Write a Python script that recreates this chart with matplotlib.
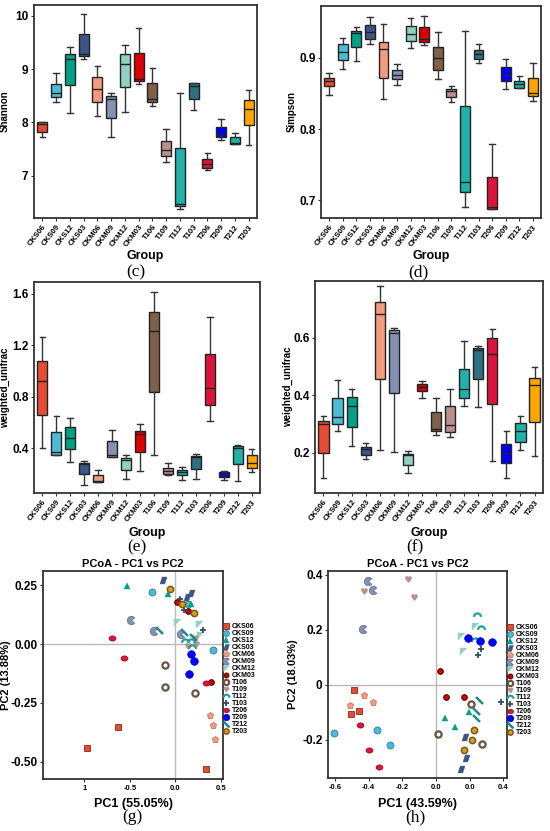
import numpy as np
import matplotlib.pyplot as plt

plt.rcParams['font.family'] = ['Liberation Sans', 'DejaVu Sans']
plt.rcParams['font.weight'] = 'bold'
plt.rcParams['axes.labelweight'] = 'bold'

groups = ['CKS06', 'CKS09', 'CKS12', 'CKS03', 'CKM06', 'CKM09', 'CKM12', 'CKM03',
          'T106', 'T109', 'T112', 'T103', 'T206', 'T209', 'T212', 'T203']
colors = ['#E64B35', '#4DBBD5', '#00A087', '#3C5488', '#F39B7F', '#8491B4', '#91D1C2', '#DC0000',
          '#7E6148', '#BC8F8F', '#20B2AA', '#2E6F80', '#DC143C', '#0000FF', '#20B2AA', '#FFA500']

# (c) Shannon: whisker low, q1, median, q3, whisker high
shannon_lo = [7.73, 8.375, 8.18, 9.19, 8.13, 7.73, 8.19, 8.72, 8.31, 7.26, 6.38, 8.225, 7.11, 7.68, 7.59, 7.575]
shannon_q1 = [7.83, 8.47, 8.70, 9.24, 8.38, 8.075, 8.66, 8.78, 8.375, 7.375, 6.43, 8.43, 7.14, 7.72, 7.59, 7.96]
shannon_med = [7.97, 8.56, 9.18, 9.29, 8.625, 8.43, 9.09, 8.82, 8.43, 7.475, 6.47, 8.69, 7.23, 7.79, 7.62, 8.25]
shannon_q3 = [8.0, 8.72, 9.275, 9.65, 8.86, 8.49, 9.29, 9.31, 8.73, 7.66, 7.525, 8.73, 7.31, 7.92, 7.725, 8.42]
shannon_hi = [8.01, 8.93, 9.41, 10.04, 9.06, 8.56, 9.46, 9.77, 9.025, 7.875, 8.55, 8.73, 7.42, 8.06, 7.81, 8.6]

# (d) Simpson
simpson_lo = [0.848, 0.885, 0.895, 0.920, 0.842, 0.862, 0.914, 0.918, 0.870, 0.838, 0.691, 0.893, 0.688, 0.857, 0.858, 0.840]
simpson_q1 = [0.860, 0.897, 0.915, 0.927, 0.872, 0.870, 0.924, 0.923, 0.883, 0.845, 0.711, 0.899, 0.688, 0.868, 0.858, 0.846]
simpson_med = [0.868, 0.909, 0.935, 0.936, 0.912, 0.876, 0.934, 0.927, 0.900, 0.854, 0.726, 0.905, 0.690, 0.876, 0.863, 0.851]
simpson_q3 = [0.872, 0.919, 0.938, 0.946, 0.922, 0.883, 0.945, 0.944, 0.915, 0.856, 0.832, 0.911, 0.733, 0.887, 0.868, 0.872]
simpson_hi = [0.879, 0.928, 0.943, 0.958, 0.947, 0.892, 0.956, 0.959, 0.937, 0.861, 0.938, 0.919, 0.779, 0.899, 0.875, 0.893]

# (e) weighted_unifrac
wu_e_lo = [0.40, 0.351, 0.292, 0.119, 0.140, 0.333, 0.163, 0.222, 0.351, 0.194, 0.155, 0.163, 0.614, 0.153, 0.145, 0.214]
wu_e_q1 = [0.657, 0.351, 0.395, 0.204, 0.140, 0.333, 0.230, 0.369, 0.838, 0.204, 0.194, 0.243, 0.737, 0.176, 0.279, 0.248]
wu_e_med = [0.923, 0.372, 0.485, 0.279, 0.150, 0.348, 0.312, 0.511, 1.309, 0.227, 0.217, 0.333, 0.866, 0.202, 0.40, 0.287]
wu_e_q3 = [1.08, 0.524, 0.567, 0.287, 0.191, 0.457, 0.325, 0.536, 1.456, 0.248, 0.235, 0.341, 1.134, 0.215, 0.423, 0.349]
wu_e_hi = [1.26, 0.655, 0.634, 0.30, 0.235, 0.544, 0.346, 0.590, 1.613, 0.284, 0.256, 0.356, 1.415, 0.225, 0.426, 0.395]

# (f) weighted_unifrac
wu_f_lo = [0.112, 0.274, 0.224, 0.178, 0.208, 0.203, 0.129, 0.391, 0.262, 0.253, 0.362, 0.358, 0.170, 0.111, 0.210, 0.188]
wu_f_q1 = [0.200, 0.299, 0.291, 0.192, 0.455, 0.409, 0.158, 0.415, 0.277, 0.272, 0.390, 0.455, 0.369, 0.166, 0.237, 0.306]
wu_f_med = [0.299, 0.325, 0.364, 0.212, 0.684, 0.617, 0.193, 0.428, 0.284, 0.298, 0.421, 0.558, 0.542, 0.199, 0.275, 0.435]
wu_f_q3 = [0.310, 0.391, 0.392, 0.220, 0.725, 0.627, 0.197, 0.439, 0.340, 0.363, 0.492, 0.565, 0.598, 0.231, 0.303, 0.459]
wu_f_hi = [0.329, 0.452, 0.421, 0.234, 0.779, 0.635, 0.205, 0.451, 0.391, 0.421, 0.590, 0.571, 0.631, 0.274, 0.328, 0.498]

# (g) PCoA, three samples per group
g_pc1 = [[-0.971, -0.629, 0.331], [-0.257, 0.136, 0.412], [-0.533, -0.077, 0.173], [-0.132, 0.121, 0.173],
         [0.382, 0.412, 0.438], [-0.489, -0.235, 0.062], [0.022, 0.261, 0.265], [0.015, 0.136, 0.393],
         [-0.118, -0.118, 0.217], [0.136, 0.228, 0.21], [0.099, 0.173, 0.184], [0.044, 0.092, 0.301],
         [-0.702, -0.566, 0.335], [0.173, 0.202, 0.147], [-0.176, 0.092, 0.191], [-0.059, 0.070, 0.199]]
g_pc2 = [[-0.442, -0.353, -0.530], [0.220, 0.169, -0.025], [0.247, 0.212, 0.169], [0.271, 0.202, 0.219],
         [-0.300, -0.346, -0.404], [0.103, 0.056, 0.043], [0.096, 0.084, 0.039], [0.181, 0.142, -0.163],
         [-0.090, -0.182, -0.208], [-0.008, 0.002, 0.028], [0.014, 0.014, -0.013], [0.191, 0.145, 0.060],
         [0.025, -0.061, -0.167], [-0.044, -0.071, -0.126], [0.060, 0.050, 0.030], [0.233, 0.169, 0.134]]

# (h) PCoA
h_pc1 = [[-0.485, -0.503, -0.459], [-0.608, -0.349, -0.271], [0.051, 0.115, 0.194], [0.174, 0.180, 0.147],
         [-0.513, -0.430, -0.374], [-0.402, -0.372, -0.432], [0.147, 0.234, 0.160], [0.024, 0.059, 0.168],
         [0.208, 0.012, 0.273], [-0.430, -0.168, -0.129], [0.242, 0.269, 0.234], [0.265, 0.248, 0.386],
         [-0.451, -0.396, -0.337], [0.192, 0.263, 0.333], [0.257, 0.236, 0.238], [0.224, 0.212, 0.166]]
h_pc2 = [[-0.018, -0.105, -0.096], [-0.176, -0.163, -0.217], [-0.122, -0.153, -0.100], [-0.188, -0.264, -0.304],
         [-0.072, -0.037, -0.064], [0.378, 0.343, 0.203], [0.177, 0.212, 0.122], [0.052, -0.043, -0.043],
         [-0.070, -0.177, -0.213], [0.341, 0.383, 0.320], [0.252, 0.206, 0.163], [0.129, 0.107, -0.061],
         [-0.147, -0.237, -0.297], [0.171, 0.160, 0.157], [-0.054, -0.096, -0.122], [-0.165, -0.199, -0.235]]

W, H = 550, 831
fig = plt.figure(figsize=(5.5, 8.31), dpi=100)


def ax_px(left, top, right, bottom):
    ax = fig.add_axes([left / W, 1 - bottom / H, (right - left) / W, (bottom - top) / H])
    ax.px = (left, top, right, bottom)
    return ax


def frame(ax):
    for s in ax.spines.values():
        s.set_linewidth(1.3)
        s.set_color('#333333')
    ax.tick_params(length=2.5, width=0.8, color='#333333', pad=1.5)


def place_labels(ax, ylab_x, xlab_y):
    # label positions given in figure pixels
    left, top, right, bottom = ax.px
    ax.yaxis.set_label_coords((ylab_x - left) / (right - left), 0.5)
    ax.xaxis.set_label_coords(0.5, (bottom - xlab_y) / (bottom - top))


def box_panel(ax, lo, q1, med, q3, hi, ylabel, ylim, yticks, yticklabels, ylab_x, xlab_y):
    stats = [dict(whislo=lo[i], q1=q1[i], med=med[i], q3=q3[i], whishi=hi[i], label=groups[i])
             for i in range(len(groups))]
    bp = ax.bxp(stats, positions=range(len(groups)), widths=0.72, patch_artist=True, showfliers=False,
                boxprops=dict(edgecolor='#222222', linewidth=1.0),
                medianprops=dict(color='#222222', linewidth=1.0),
                whiskerprops=dict(color='#333333', linewidth=1.0),
                capprops=dict(color='#333333', linewidth=1.0), capwidths=0.4)
    for patch, c in zip(bp['boxes'], colors):
        patch.set_facecolor(c)
    ax.set_xlim(-0.6, len(groups) - 0.4)
    ax.set_ylim(*ylim)
    ax.set_yticks(yticks)
    ax.set_yticklabels(yticklabels, fontsize=8.5, fontweight='bold')
    ax.set_xticks(range(len(groups)))
    ax.set_xticklabels(groups, rotation=52, ha='right', rotation_mode='anchor', fontsize=5.6, fontweight='bold')
    ax.set_ylabel(ylabel, fontsize=7, fontweight='bold')
    ax.set_xlabel('Group', fontsize=9, fontweight='bold')
    frame(ax)
    place_labels(ax, ylab_x, xlab_y)


# (c)
ax = ax_px(34, 5, 257, 218)
box_panel(ax, shannon_lo, shannon_q1, shannon_med, shannon_q3, shannon_hi, 'Shannon',
          (6.21, 10.2), [7, 8, 9, 10], ['7', '8', '9', '10'], 10, 250)
# (d)
ax = ax_px(321, 6, 541, 218)
box_panel(ax, simpson_lo, simpson_q1, simpson_med, simpson_q3, simpson_hi, 'Simpson',
          (0.675, 0.973), [0.7, 0.8, 0.9], ['0.7', '0.8', '0.9'], 297, 250)
# (e)
ax = ax_px(34, 282, 260, 493)
box_panel(ax, wu_e_lo, wu_e_q1, wu_e_med, wu_e_q3, wu_e_hi, 'weighted_unifrac',
          (0.055, 1.69), [0.4, 0.8, 1.2, 1.6], ['0.4', '0.8', '1.2', '1.6'], 10, 527)
# (f)
ax = ax_px(315, 281, 543, 493)
box_panel(ax, wu_f_lo, wu_f_q1, wu_f_med, wu_f_q3, wu_f_hi, 'weighted_unifrac',
          (0.06, 0.797), [0.2, 0.4, 0.6], ['0.2', '0.4', '0.6'], 293, 527)

# marker shapes for the PCoA groups
para = [(-1, -1), (0.35, -1), (1, 1), (-0.35, 1), (-1, -1)]
t = np.linspace(np.radians(40), np.radians(320), 20)
pacman = [(0, 0)] + list(zip(np.cos(t), np.sin(t))) + [(0, 0)]
flag = [(-1, 1), (1, 1), (-1, -1), (-1, 1)]
a = np.linspace(0, np.pi, 15)
arc = list(zip(np.cos(a), np.sin(a) - 0.4))
leaf = [(np.cos(s), 0.75 * np.sin(s)) for s in np.linspace(0, 2 * np.pi, 25)]
slash = [(-1, 1), (1, -1)]
markers = ['s', 'o', '^', para, 'p', pacman, flag, 'o', 'o', '$\u2665$', arc, '+', leaf, 'o', slash, 'o']
msizes = [5, 5, 4.5, 5, 5, 6, 5, 4, 4.5, 4.5, 5, 5, 5, 5.5, 5, 4.5]
faces = ['#E64B35', '#4DBBD5', '#00A087', '#3C5488', '#F39B7F', '#8491B4', '#91D1C2', '#DC0000',
         'none', '#BC8F8F', 'none', '#2F4F5F', '#DC143C', '#0000FF', 'none', '#D4A020']
edges = ['#8B2A1A', '#2A7F95', '#00A087', '#3C5488', '#C87A60', '#5D6890', '#91D1C2', '#500000',
         '#6B5340', '#BC8F8F', '#20A0A0', '#2F4F5F', '#8B0A20', '#0000CC', '#208A8A', '#7A5A10']
mews = [0.6, 0.6, 0.3, 0.3, 0.6, 0.5, 0.3, 0.8, 1.6, 0.3, 1.6, 1.3, 0.5, 0.5, 1.8, 1.1]


def pcoa_panel(ax, pc1, pc2, xlabel, ylabel, xlim, ylim, xticks, xticklabels, yticks, yticklabels,
               ylab_x, xlab_y, leg_y):
    ax.axhline(0, color='#bbbbbb', linewidth=1.0, zorder=0)
    ax.axvline(0, color='#bbbbbb', linewidth=1.0, zorder=0)
    for i, g in enumerate(groups):
        ax.plot(pc1[i], pc2[i], linestyle='none', marker=markers[i], markersize=msizes[i],
                markerfacecolor=faces[i], markeredgecolor=edges[i], markeredgewidth=mews[i], label=g)
    ax.set_xlim(*xlim)
    ax.set_ylim(*ylim)
    ax.set_xticks(xticks)
    ax.set_xticklabels(xticklabels, fontsize=5.5, fontweight='bold')
    ax.set_yticks(yticks)
    ax.set_yticklabels(yticklabels, fontsize=8.5, fontweight='bold')
    ax.set_xlabel(xlabel, fontsize=9, fontweight='bold')
    ax.set_ylabel(ylabel, fontsize=8, fontweight='bold')
    ax.set_title('PCoA - PC1 vs PC2', fontsize=8, fontweight='bold', pad=3)
    left, top, right, bottom = ax.px
    ax.legend(loc='center left', bbox_to_anchor=(1.0, (bottom - leg_y) / (bottom - top)), frameon=False,
              fontsize=5.0, handlelength=1.0, handletextpad=0.3, labelspacing=0.0, borderaxespad=0.0,
              borderpad=0.0, markerscale=0.85)
    frame(ax)
    place_labels(ax, ylab_x, xlab_y)


ax = ax_px(43, 571, 223, 779)
pcoa_panel(ax, g_pc1, g_pc2, 'PC1 (55.05%)', 'PC2 (13.88%)', (-1.456, 0.522), (-0.574, 0.311),
           [-1.0, -0.5, 0.0, 0.5], ['1', '-0.5', '0.0', '0.5'],
           [-0.5, -0.25, 0.0, 0.25], ['-0.50', '-0.25', '0.00', '0.25'], 11, 798, 679)

ax = ax_px(328, 571, 507, 778)
pcoa_panel(ax, h_pc1, h_pc2, 'PC1 (43.59%)', 'PC2 (18.03%)', (-0.642, 0.422), (-0.338, 0.413),
           [-0.6, -0.4, -0.2, 0.0, 0.2, 0.4], ['-0.6', '-0.4', '-0.2', '0.0', '0.0', '0.4'],
           [-0.2, 0.0, 0.2, 0.4], ['-0.2', '0', '0.2', '0.4'], 298, 798, 680)

# panel captions
for x, y, s in [(136, 272, '(c)'), (418, 272, '(d)'), (137, 547, '(e)'), (415, 547, '(f)'),
                (132, 817, '(g)'), (415, 817, '(h)')]:
    fig.text(x / W, 1 - y / H, s, ha='center', va='center', fontsize=12.5,
             family=['Liberation Serif', 'DejaVu Serif'], fontweight='normal')

fig.savefig('out.png', dpi=100)
